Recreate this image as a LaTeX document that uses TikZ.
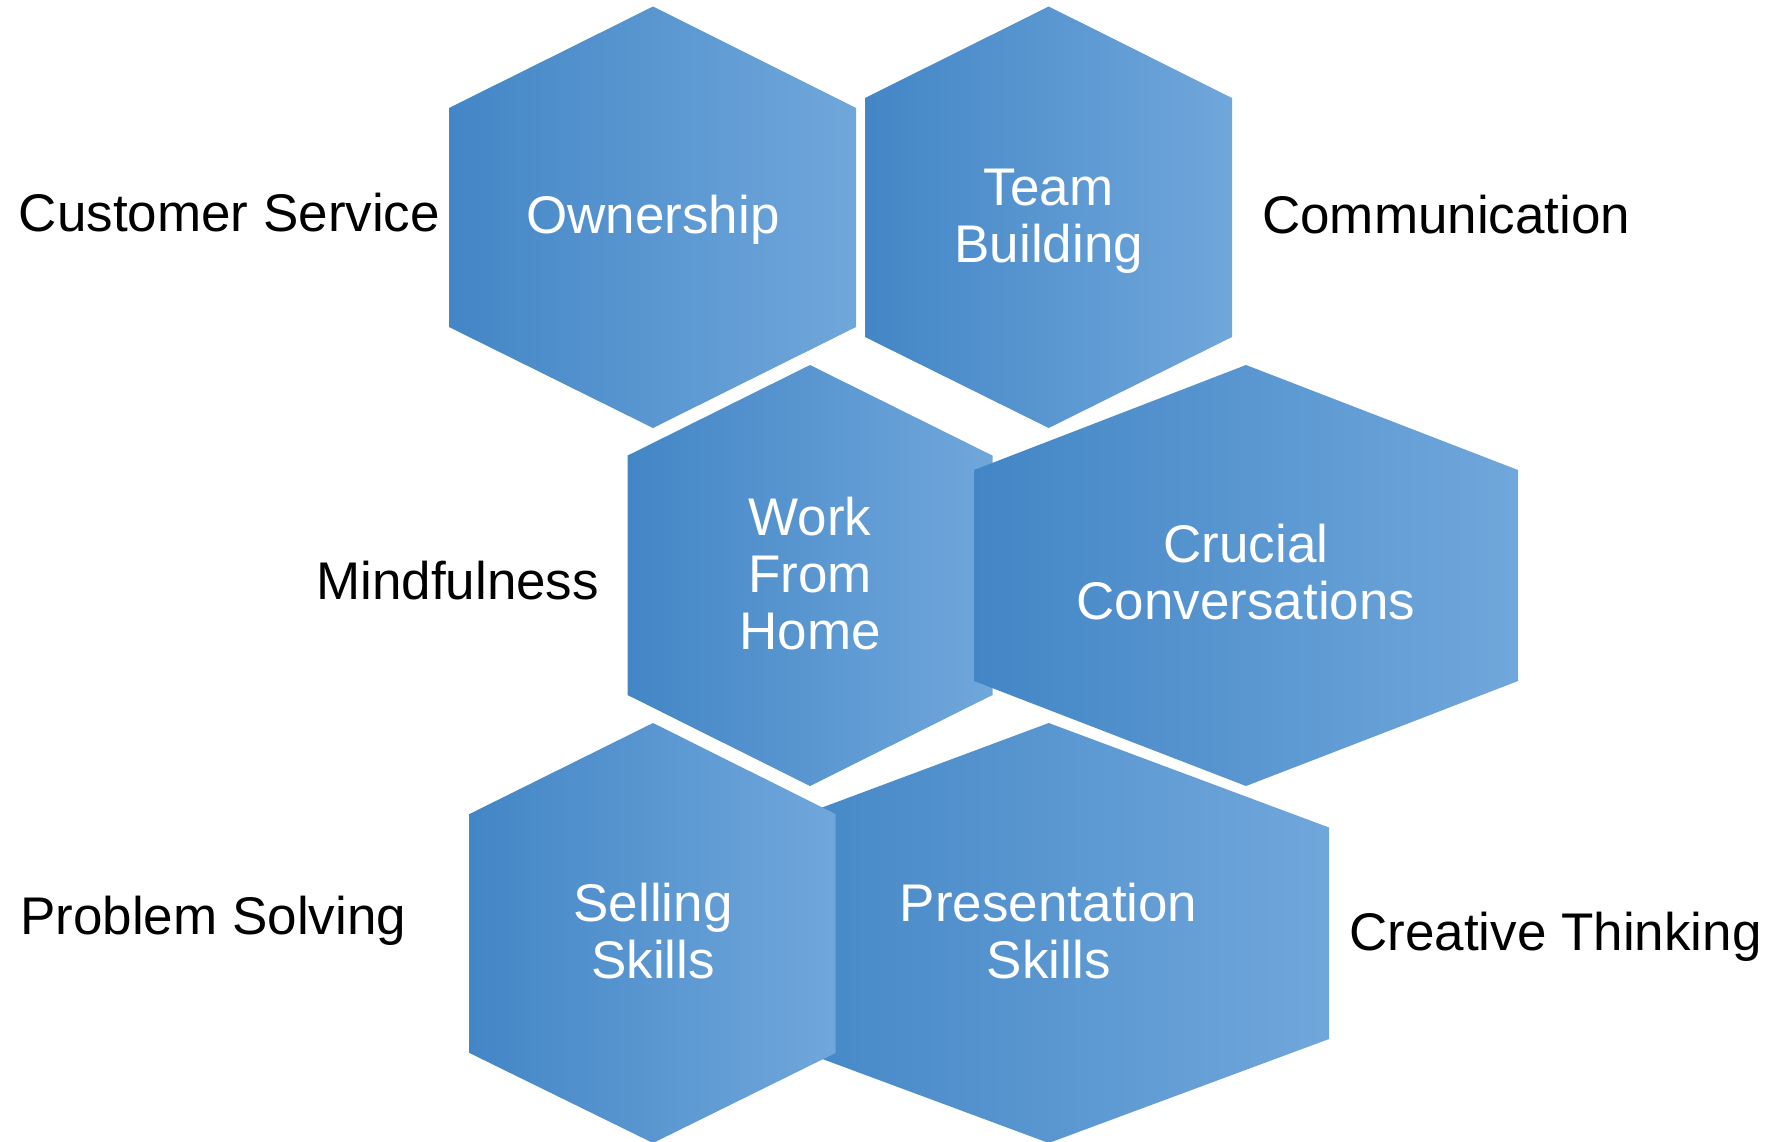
\documentclass[tikz,border=0pt]{standalone}
\usepackage{fontspec}
\setmainfont{Liberation Sans}
\definecolor{hexL}{RGB}{67,134,198}
\definecolor{hexM}{RGB}{80,156,220}
\definecolor{hexR}{RGB}{112,167,219}
\begin{document}
\begin{tikzpicture}[x=1pt,y=-1pt,
  hexfill/.style={left color=hexL,middle color=hexM,right color=hexR,draw=none},
  inlbl/.style={text=white,align=center,inner sep=0pt,anchor=base,font=\fontsize{53}{57}\selectfont},
  outlbl/.style={text=black,inner sep=0pt,anchor=base west,font=\fontsize{53}{57}\selectfont}]
\useasboundingbox (0,0) rectangle (1770,1141);
% Ownership
\shade[hexfill] (653,6.5) -- (856,108) -- (856,327) -- (653,428) -- (449,327) -- (449,108) -- cycle;
% Team Building
\shade[hexfill] (1048.7,6.5) -- (1232,98) -- (1232,337) -- (1048.7,428) -- (865,337) -- (865,98) -- cycle;
% Work From Home
\shade[hexfill] (810,365) -- (992.5,455.6) -- (992.5,695) -- (810,786) -- (627.5,695) -- (627.5,455.6) -- cycle;
% Crucial Conversations
\shade[hexfill] (1246,365) -- (1518,470) -- (1518,681) -- (1246,786) -- (974,681) -- (974,470) -- cycle;
% Presentation Skills
\shade[hexfill] (1048.7,723) -- (1329,827.5) -- (1329,1039) -- (1048.7,1143) -- (768.5,1039) -- (768.5,827.5) -- cycle;
% Selling Skills
\shade[hexfill] (653,723) -- (835.5,814) -- (835.5,1053) -- (653,1143) -- (469.5,1053) -- (469.5,814) -- cycle;

% multi-line nodes: base = baseline of the last line
\node[inlbl] (own) at (653,233) {Ownership};
\node[inlbl] (team) at (1048.7,262) {Team\\Building};
\node[inlbl] (wfh) at (810,649.4) {Work\\From\\Home};
\node[inlbl] (cruc) at (1246,619.5) {Crucial\\Conversations};
\node[inlbl] (sell) at (653,978) {Selling\\Skills};
\node[inlbl] (pres) at (1048.7,978) {Presentation\\Skills};

\node[outlbl] (cs) at (18.6,231) {Customer Service};
\node[outlbl] (comm) at (1262,233) {Communication};
\node[outlbl] (mind) at (316,599) {Mindfulness};
\node[outlbl] (ps) at (20,934) {Problem Solving};
\node[outlbl] (ct) at (1349,950.5) {Creative Thinking};
\end{tikzpicture}
\end{document}
